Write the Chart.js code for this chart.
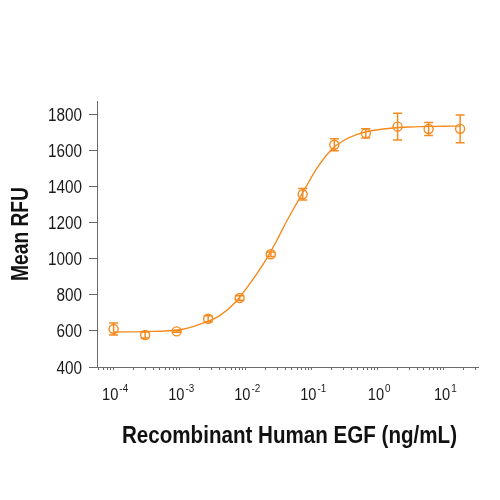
<!DOCTYPE html>
<html>
<head>
<meta charset="utf-8">
<script src="https://cdn.jsdelivr.net/npm/chart.js@4/dist/chart.umd.min.js"></script>
<style>
  body { margin: 0; background: #fff; }
  #chart { display: block; }
</style>
</head>
<body>
<canvas id="chart" width="500" height="500"></canvas>
<script>
// EGF dose response, 3-fold dilutions (ng/mL)
var conc = [0.0001, 0.0003, 0.0009, 0.0027, 0.0081, 0.024, 0.073, 0.22, 0.66, 2.0, 5.9, 17.7];
var meanRfu = [610, 577, 597, 667, 782, 1024, 1356, 1630, 1693, 1730, 1717, 1718];
var sdRfu = [33, 16, 5, 17, 12, 12, 32, 33, 26, 74, 36, 77];

// fitted curve
var fitConc = [0.0001, 0.0003, 0.001, 0.002, 0.004, 0.007, 0.01, 0.015, 0.02, 0.03, 0.04, 0.06, 0.08, 0.12, 0.2, 0.3, 0.5, 1, 3, 10, 17.7];
var fitRfu = [594, 596, 606, 636, 683, 758, 830, 920, 990, 1104, 1194, 1310, 1390, 1500, 1604, 1652, 1689, 1713, 1728, 1732, 1733];

var yTicks = [400, 600, 800, 1000, 1200, 1400, 1600, 1800];
var decades = [-4, -3, -2, -1, 0, 1];
var xTitle = 'Recombinant Human EGF (ng/mL)';
var yTitle = 'Mean RFU';

var orange = '#f68a1f';
var axisGrey = '#6b6b6b';
var textColor = '#1a1a1a';
var face = '"Liberation Sans", Arial, sans-serif';

// no condensed face installed, so text is squeezed horizontally
function squeezed(ctx, text, x, y, font, sx, align, rot) {
  ctx.save();
  ctx.font = font;
  ctx.translate(x, y);
  if (rot) ctx.rotate(rot);
  ctx.scale(sx, 1);
  ctx.textAlign = align;
  ctx.textBaseline = 'alphabetic';
  ctx.fillText(text, 0, 0);
  ctx.restore();
}

function widthOf(ctx, text, font) {
  ctx.font = font;
  return ctx.measureText(text).width;
}

var errorBars = {
  id: 'errorBars',
  afterDatasetsDraw: function (chart) {
    var ctx = chart.ctx;
    var xs = chart.scales.x;
    var ys = chart.scales.y;
    ctx.save();
    ctx.strokeStyle = orange;
    ctx.lineWidth = 1.5;
    for (var i = 0; i < conc.length; i++) {
      var px = xs.getPixelForValue(conc[i]);
      var top = ys.getPixelForValue(meanRfu[i] + sdRfu[i]);
      var bot = ys.getPixelForValue(meanRfu[i] - sdRfu[i]);
      ctx.beginPath();
      ctx.moveTo(px, top);
      ctx.lineTo(px, bot);
      ctx.moveTo(px - 4.5, top);
      ctx.lineTo(px + 4.5, top);
      ctx.moveTo(px - 4.5, bot);
      ctx.lineTo(px + 4.5, bot);
      ctx.stroke();
    }
    ctx.restore();
  }
};

var axisText = {
  id: 'axisText',
  afterDraw: function (chart) {
    var ctx = chart.ctx;
    var xs = chart.scales.x;
    var ys = chart.scales.y;
    ctx.save();
    ctx.fillStyle = textColor;

    // y tick labels
    var yFont = '18px ' + face;
    var ySx = 34 / widthOf(ctx, '1800', yFont);
    yTicks.forEach(function (v) {
      squeezed(ctx, String(v), 82, ys.getPixelForValue(v) + 6.5, yFont, ySx, 'right');
    });

    // x tick labels, 10 with raised exponent
    var baseFont = '17px ' + face;
    var supFont = '11.5px ' + face;
    var sx = 0.86;
    decades.forEach(function (e) {
      var px = xs.getPixelForValue(Math.pow(10, e));
      var sup = String(e);
      var wBase = widthOf(ctx, '10', baseFont) * sx;
      var wSup = widthOf(ctx, sup, supFont) * sx;
      var x0 = px + 1.5 - (wBase + wSup + 1) / 2;
      squeezed(ctx, '10', x0, 400, baseFont, sx, 'left');
      squeezed(ctx, sup, x0 + wBase + 1, 392, supFont, sx, 'left');
    });

    // axis titles
    ctx.fillStyle = '#111';
    var tFont = 'bold 24px ' + face;
    squeezed(ctx, xTitle, (chart.chartArea.left + chart.chartArea.right) / 2 + 2, 443, tFont,
      335 / widthOf(ctx, xTitle, tFont), 'center');
    squeezed(ctx, yTitle, 28, (chart.chartArea.top + chart.chartArea.bottom) / 2, tFont,
      94 / widthOf(ctx, yTitle, tFont), 'center', -Math.PI / 2);
    ctx.restore();
  }
};

var ctx = document.getElementById('chart');
var chart = new Chart(ctx, {
  type: 'scatter',
  data: {
    datasets: [{
      type: 'line',
      data: fitConc.map(function (c, i) { return { x: c, y: fitRfu[i] }; }),
      borderColor: orange,
      borderWidth: 1.4,
      pointRadius: 0,
      fill: false,
      cubicInterpolationMode: 'monotone'
    }, {
      data: conc.map(function (c, i) { return { x: c, y: meanRfu[i] }; }),
      borderColor: orange,
      backgroundColor: 'rgba(0,0,0,0)',
      borderWidth: 1.4,
      pointRadius: 4.5,
      pointStyle: 'circle'
    }]
  },
  options: {
    responsive: false,
    animation: false,
    layout: {
      padding: { top: 101, right: 22, left: 0, bottom: 0 }
    },
    plugins: {
      legend: { display: false },
      tooltip: { enabled: false }
    },
    scales: {
      x: {
        type: 'logarithmic',
        min: 0.000056,
        max: 33,
        afterBuildTicks: function (scale) {
          var t = [];
          for (var e = -5; e <= 1; e++) {
            for (var m = 1; m <= 9; m++) {
              var v = m * Math.pow(10, e);
              if (v >= scale.min && v <= scale.max) t.push({ value: v, major: m === 1 });
            }
          }
          scale.ticks = t;
        },
        afterFit: function (scale) { scale.height = 133; },
        border: { color: axisGrey, width: 1 },
        grid: { drawOnChartArea: false, tickLength: 3, color: axisGrey, tickColor: axisGrey },
        ticks: { display: false }
      },
      y: {
        min: 400,
        max: 1872,
        afterBuildTicks: function (scale) {
          scale.ticks = yTicks.map(function (v) { return { value: v }; });
        },
        afterFit: function (scale) { scale.width = 97; },
        border: { color: axisGrey, width: 1 },
        grid: { drawOnChartArea: false, tickLength: 8, tickColor: axisGrey },
        ticks: { display: false }
      }
    }
  },
  plugins: [errorBars, axisText]
});
</script>
</body>
</html>
